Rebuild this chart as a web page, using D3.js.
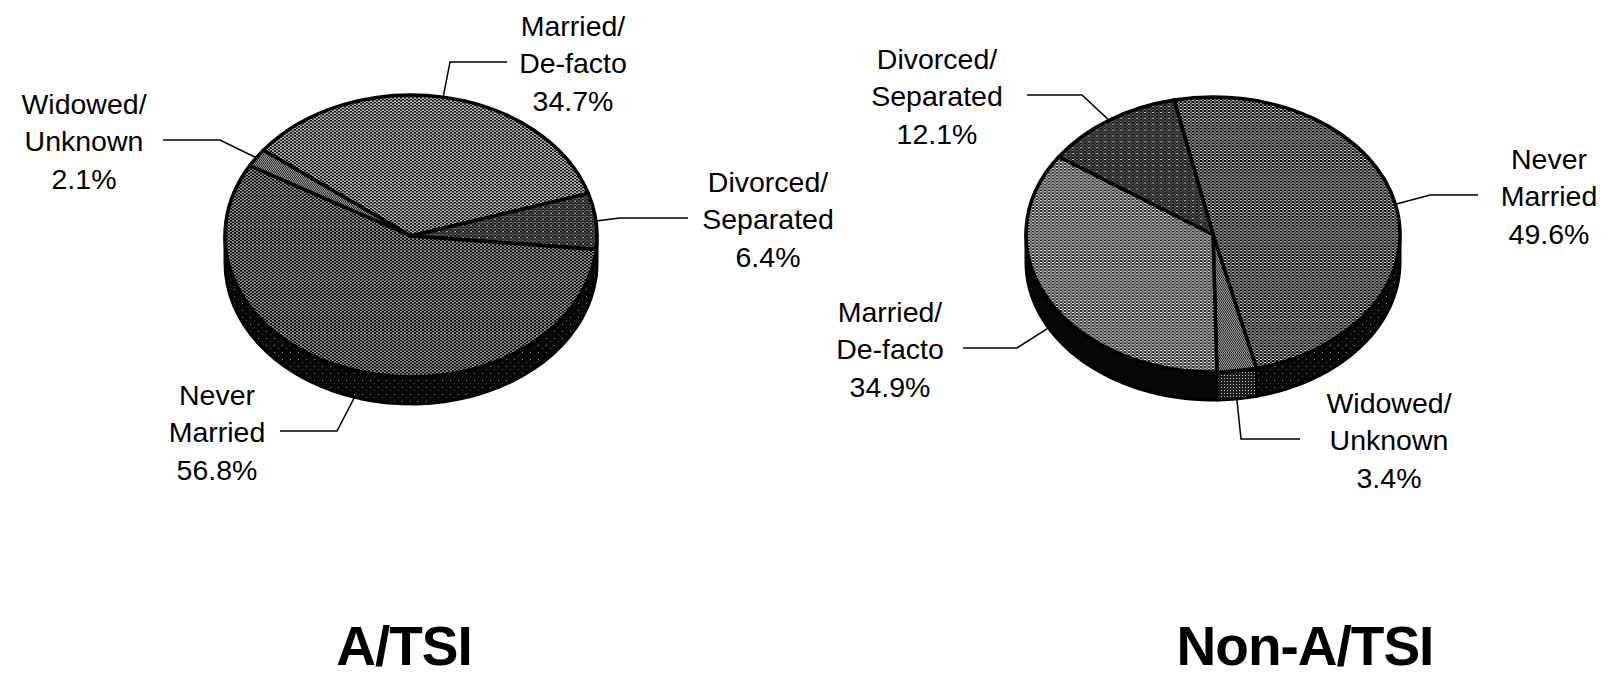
<!DOCTYPE html>
<html>
<head>
<meta charset="utf-8">
<script src="https://cdn.jsdelivr.net/npm/d3@7"></script>
<style>
  body { margin: 0; background: #fff; }
  text { font-family: "Liberation Sans", Arial, Helvetica, sans-serif; fill: #000; }
</style>
</head>
<body>
<script>
var width = 1619,
  height = 677;

// A/TSI pie, clockwise from the Married slice
var atsiCategories = ["Married/De-facto", "Divorced/Separated", "Never Married", "Widowed/Unknown"];
var atsiValues = [34.7, 6.4, 56.8, 2.1];

// Non-A/TSI pie, clockwise from the Never Married slice
var nonCategories = ["Never Married", "Widowed/Unknown", "Married/De-facto", "Divorced/Separated"];
var nonValues = [49.6, 3.4, 34.9, 12.1];

var titles = ["A/TSI", "Non-A/TSI"];

// fill pattern per category (top face / side wall)
var topFill = {
  "Married/De-facto": "url(#hatchLight)",
  "Never Married": "url(#hatchDark)",
  "Divorced/Separated": "url(#dotsDark)",
  "Widowed/Unknown": "url(#fineGrey)"
};
var sideFill = {
  "Married/De-facto": "#060606",
  "Never Married": "url(#sideSpeck)",
  "Divorced/Separated": "url(#sideSpeck)",
  "Widowed/Unknown": "url(#sideGrey)"
};

// layout of each pie and its callouts
var pies = [
  {
    cats: atsiCategories, vals: atsiValues, title: titles[0],
    cx: 411, cy: 236, rx: 186, ry: 141, depth: 27, start: -52.5, titleX: 404,
    labels: {
      "Married/De-facto": { tx: 573, ly: 62, ex: 450, hx: 507 },
      "Divorced/Separated": { tx: 768, ly: 218, ex: 620, hx: 688 },
      "Never Married": { tx: 217, ly: 431, ex: 337, hx: 280 },
      "Widowed/Unknown": { tx: 84, ly: 140, ex: 220, hx: 163 }
    }
  },
  {
    cats: nonCategories, vals: nonValues, title: titles[1],
    cx: 1213, cy: 234.5, rx: 187, ry: 137.5, depth: 28, start: -12, titleX: 1305,
    labels: {
      "Never Married": { tx: 1549, ly: 195, ex: 1430, hx: 1478 },
      "Widowed/Unknown": { tx: 1389, ly: 439, ex: 1241, hx: 1300 },
      "Married/De-facto": { tx: 890, ly: 348, ex: 1017, hx: 963 },
      "Divorced/Separated": { tx: 937, ly: 95, ex: 1082, hx: 1027 }
    }
  }
];

var svg = d3.select("body").append("svg")
  .attr("width", width)
  .attr("height", height);

svg.append("rect").attr("width", width).attr("height", height).attr("fill", "#fff");

// Patterns
var defs = svg.append("defs");
var crossPath = "M0,0L4,4M4,0L0,4M-1,1L1,-1M3,5L5,3M-1,3L1,5M3,-1L5,1";

function hatch(id, bg, sw) {
  var p = defs.append("pattern").attr("id", id)
    .attr("patternUnits", "userSpaceOnUse").attr("width", 4).attr("height", 4);
  p.append("rect").attr("width", 4).attr("height", 4).attr("fill", bg);
  p.append("path").attr("d", crossPath).attr("stroke", "#000").attr("stroke-width", sw);
}
hatch("hatchLight", "#fff", 1.15);
hatch("hatchDark", "#fff", 1.25);

var dots = defs.append("pattern").attr("id", "dotsDark")
  .attr("patternUnits", "userSpaceOnUse").attr("width", 8).attr("height", 8);
dots.append("rect").attr("width", 8).attr("height", 8).attr("fill", "#777");
dots.append("path").attr("d", "M0,0L8,8M8,0L0,8M0,4L4,0M4,8L8,4M0,4L4,8M4,0L8,4")
  .attr("stroke", "#111").attr("stroke-width", 1.2);
dots.append("rect").attr("x", 3.5).attr("y", 1.5).attr("width", 1.3).attr("height", 1.3).attr("fill", "#fff");

var fine = defs.append("pattern").attr("id", "fineGrey")
  .attr("patternUnits", "userSpaceOnUse").attr("width", 2).attr("height", 2);
fine.append("rect").attr("width", 2).attr("height", 2).attr("fill", "#b0b0b0");
fine.append("rect").attr("width", 1).attr("height", 1).attr("fill", "#111");
fine.append("rect").attr("x", 1).attr("y", 1).attr("width", 1).attr("height", 1).attr("fill", "#222");

var speck = defs.append("pattern").attr("id", "sideSpeck")
  .attr("patternUnits", "userSpaceOnUse").attr("width", 8).attr("height", 7);
speck.append("rect").attr("width", 8).attr("height", 7).attr("fill", "#080808");
speck.append("rect").attr("x", 2).attr("y", 2).attr("width", 1).attr("height", 1).attr("fill", "#888");
speck.append("rect").attr("x", 6).attr("y", 5).attr("width", 1).attr("height", 1).attr("fill", "#444");

var sg = defs.append("pattern").attr("id", "sideGrey")
  .attr("patternUnits", "userSpaceOnUse").attr("width", 3).attr("height", 3);
sg.append("rect").attr("width", 3).attr("height", 3).attr("fill", "#1e1e1e");
sg.append("rect").attr("width", 1).attr("height", 1).attr("fill", "#bbb");

function splitLabel(name) {
  var i = name.indexOf("/");
  if (i >= 0) return [name.slice(0, i + 1), name.slice(i + 1)];
  return name.split(" ");
}

pies.forEach(function (p) {
  var data = p.cats.map(function (c, i) { return { cat: c, value: p.vals[i] }; });
  var a0 = p.start * Math.PI / 180;

  var pie = d3.pie()
    .sort(null)
    .value(function (d) { return d.value; })
    .startAngle(a0)
    .endAngle(a0 + 2 * Math.PI);

  var arcs = pie(data);

  function ept(a, dz) {
    return [p.cx + p.rx * Math.sin(a), p.cy - p.ry * Math.cos(a) + dz];
  }

  var g = svg.append("g");

  // Side walls (front half only)
  arcs.forEach(function (d) {
    var s = Math.max(d.startAngle, Math.PI / 2),
      e = Math.min(d.endAngle, 3 * Math.PI / 2);
    if (e <= s) return;
    var steps = d3.range(41).map(function (i) { return s + (e - s) * i / 40; });
    var pts = steps.map(function (a) { return ept(a, 0); })
      .concat(steps.slice().reverse().map(function (a) { return ept(a, p.depth); }));
    g.append("path")
      .attr("d", d3.line()(pts) + "Z")
      .attr("fill", sideFill[d.data.cat])
      .attr("stroke", "#000")
      .attr("stroke-width", 3)
      .attr("stroke-linejoin", "round");
  });

  // Top face
  var arc = d3.arc().innerRadius(0).outerRadius(p.rx);
  g.append("g")
    .attr("transform", "translate(" + p.cx + "," + p.cy + ") scale(1," + (p.ry / p.rx) + ")")
    .selectAll("path")
    .data(arcs)
    .enter()
    .append("path")
    .attr("d", arc)
    .attr("fill", function (d) { return topFill[d.data.cat]; })
    .attr("stroke", "#000")
    .attr("stroke-width", 3.5)
    .attr("stroke-linejoin", "round")
    .attr("vector-effect", "non-scaling-stroke");

  // Callouts
  arcs.forEach(function (d) {
    var L = p.labels[d.data.cat];
    var mid = (d.startAngle + d.endAngle) / 2;
    var front = Math.cos(mid) < 0;
    var anchor = ept(mid, front ? p.depth : 0);

    g.append("path")
      .attr("d", d3.line()([anchor, [L.ex, L.ly], [L.hx, L.ly]]))
      .attr("fill", "none")
      .attr("stroke", "#000")
      .attr("stroke-width", 1.5);

    var lines = splitLabel(d.data.cat).concat([d.data.value.toFixed(1) + "%"]);
    var t = g.append("text")
      .attr("text-anchor", "middle")
      .attr("font-size", 28.5);
    lines.forEach(function (ln, i) {
      t.append("tspan")
        .attr("x", L.tx)
        .attr("y", L.ly + 11 + (i - 1) * 37.5)
        .text(ln);
    });
  });

  svg.append("text")
    .attr("x", p.titleX)
    .attr("y", 665)
    .attr("text-anchor", "middle")
    .attr("font-size", 55)
    .attr("font-weight", "bold")
    .attr("letter-spacing", -1)
    .text(p.title);
});
</script>
</body>
</html>
